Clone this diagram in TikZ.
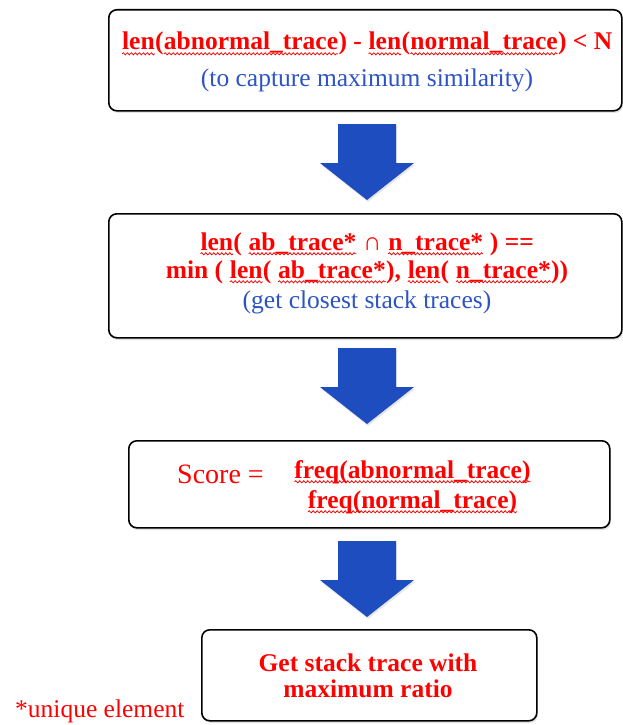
\documentclass[tikz,border=0pt]{standalone}
\usepackage{fontspec}
\setmainfont{Liberation Serif}
\usetikzlibrary{shadows,decorations.pathmorphing}
\definecolor{tred}{RGB}{255,0,0}
\definecolor{tblue}{RGB}{44,84,196}
\definecolor{ablue}{RGB}{30,77,192}
\newcommand{\wv}[1]{\tikz[baseline=(wvt.base)]{\node[inner sep=0pt, outer sep=0pt] (wvt) {#1};
  \draw[tred, line width=0.75pt, decorate, decoration={snake, amplitude=1.1pt, segment length=4pt}]
    ([yshift=-3.8pt]wvt.base west) -- ([yshift=-3.8pt]wvt.base east);}}
\tikzset{
  flowbox/.style={draw=black, line width=1.6pt, rounded corners=8pt, fill=white, anchor=north west, inner sep=0pt,
    drop shadow={shadow xshift=1.2pt, shadow yshift=-2.2pt, opacity=0.22}},
  redtxt/.style={text=tred, font=\fontsize{25.5}{30}\selectfont\bfseries, inner sep=0pt, anchor=base},
  bluetxt/.style={text=tblue, font=\fontsize{25.5}{30}\selectfont, inner sep=0pt, anchor=base},
  blockarrow/.style={fill=ablue, drop shadow={shadow xshift=1pt, shadow yshift=-2pt, opacity=0.2}}
}
\newcommand{\downarr}[2]{%
  \fill[blockarrow] (#1-29,#2) -- (#1+29,#2) -- (#1+29,#2+39) -- (#1+47,#2+39) -- (#1,#2+76) -- (#1-47,#2+39) -- (#1-29,#2+39) -- cycle;}
\begin{document}
\begin{tikzpicture}[x=1pt, y=-1pt]
\useasboundingbox (0,0) rectangle (622,725);
% boxes
\node[flowbox, minimum width=513pt, minimum height=101pt] (b1) at (108,9) {};
\node[flowbox, minimum width=513pt, minimum height=124pt] (b2) at (108,213) {};
\node[flowbox, minimum width=481pt, minimum height=87pt] (b3) at (128,440) {};
\node[flowbox, minimum width=335pt, minimum height=91pt] (b4) at (201,629) {};
% arrows
\downarr{367}{124}
\downarr{367}{348}
\downarr{367}{541}
% box 1 text
\node[redtxt] (t11) at (367,50) {\wv{len}(\wv{abnormal\_trace}) - \wv{len}(\wv{normal\_trace}) < N};
\node[bluetxt] (t12) at (367,86) {(to capture maximum similarity)};
% box 2 text
\node[redtxt] (t21) at (367,250) {\wv{len}( \wv{ab\_trace*} {\mdseries ∩} \wv{n\_trace*} ) ==};
\node[redtxt] (t22) at (367,278) {min ( \wv{len}( \wv{ab\_trace*}), \wv{len}( \wv{n\_trace*}))};
\node[bluetxt] (t23) at (367,308) {(get closest stack traces)};
% box 3 text
\node[text=tred, font=\fontsize{28}{32}\selectfont, inner sep=0pt, anchor=base west] (t31) at (177,483) {Score =};
\node[redtxt] (t32) at (412.5,478) {\wv{freq(abnormal\_trace)}};
\node[redtxt] (t33) at (412.5,508) {\wv{freq(normal\_trace)}};
% box 4 text
\node[redtxt] (t41) at (368,671) {Get stack trace with};
\node[redtxt] (t42) at (368,697) {maximum ratio};
% footnote
\node[text=tred, font=\fontsize{25.5}{30}\selectfont, inner sep=0pt, anchor=base west] (fn) at (15,717) {*unique element};
\end{tikzpicture}
\end{document}
